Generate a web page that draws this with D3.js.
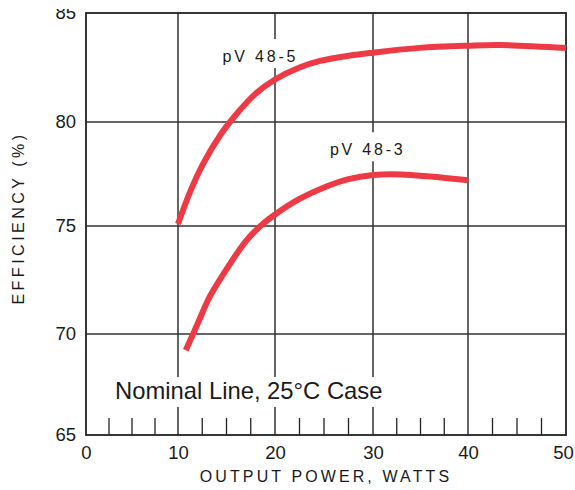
<!DOCTYPE html>
<html>
<head>
<meta charset="utf-8">
<script src="https://cdn.jsdelivr.net/npm/d3@7"></script>
<style>
  body { margin: 0; background: #fff; }
  svg text { font-family: "Liberation Sans", Arial, Helvetica, sans-serif; fill: #1a1a1a; }
</style>
</head>
<body>
<svg id="chart" width="575" height="490"></svg>
<script>
// efficiency curves
var pv485_x = [10, 11.3, 12.6, 14.4, 16.1, 18, 20, 22.5, 24.6, 27.2, 30, 34.9, 40, 43.3, 50];
var pv485_y = [75.1, 76.7, 78.0, 79.4, 80.4, 81.3, 81.95, 82.5, 82.8, 83.02, 83.18, 83.4, 83.5, 83.53, 83.39];

var pv483_x = [10.8, 12, 13.3, 15, 17, 18.5, 20, 22.5, 25, 27.5, 30, 33, 36, 40];
var pv483_y = [69.2, 70.45, 71.75, 73.0, 74.3, 75.0, 75.55, 76.3, 76.85, 77.25, 77.45, 77.48, 77.38, 77.2];

var xTicks = [0, 10, 20, 30, 40, 50];
var yTicks = [65, 70, 75, 80, 85];
var xMinor = [2.5, 5, 7.5, 12.5, 15, 17.5, 22.5, 25, 27.5, 32.5, 35, 37.5, 42.5, 45, 47.5];

var labels = [
    { text: "pV 48-5", x: 14.6, y: 82.75 },
    { text: "pV 48-3", x: 25.6, y: 78.4 }
];

var svg = d3.select("#chart");

// the printed grid is slightly uneven, so the scales follow its lines
var x = d3.scaleLinear().domain(xTicks).range([86, 178, 275, 373, 468, 566]);
var y = d3.scaleLinear().domain(yTicks).range([435, 334, 226, 122, 13]);

var gGrid = svg.append("g");
var gBg = svg.append("g");
var gText = svg.append("g");
var gCurves = svg.append("g");

// horizontal grid
gGrid.selectAll("line.h")
    .data(yTicks.slice(1, -1))
    .enter().append("line")
    .attr("x1", x(0)).attr("x2", x(50))
    .attr("y1", function (d) { return y(d); })
    .attr("y2", function (d) { return y(d); })
    .attr("stroke", "#333")
    .attr("stroke-width", 1.5);

// vertical grid
gGrid.selectAll("line.v")
    .data(xTicks.slice(1, -1))
    .enter().append("line")
    .attr("x1", function (d) { return x(d); })
    .attr("x2", function (d) { return x(d); })
    .attr("y1", y(65)).attr("y2", y(85))
    .attr("stroke", "#333")
    .attr("stroke-width", 1.5);

// minor ticks along the bottom
gGrid.selectAll("line.m")
    .data(xMinor)
    .enter().append("line")
    .attr("x1", function (d) { return x(d); })
    .attr("x2", function (d) { return x(d); })
    .attr("y1", y(65)).attr("y2", y(65) - 17)
    .attr("stroke", "#222")
    .attr("stroke-width", 1.3);

// frame
gGrid.append("rect")
    .attr("x", x(0)).attr("y", y(85))
    .attr("width", x(50) - x(0))
    .attr("height", y(65) - y(85))
    .attr("fill", "none")
    .attr("stroke", "#222")
    .attr("stroke-width", 1.8);

// axes (labels only)
var xAxis = svg.append("g")
    .attr("transform", "translate(0," + y(65) + ")")
    .call(d3.axisBottom(x).tickValues(xTicks).tickSize(0).tickPadding(11));
var yAxis = svg.append("g")
    .attr("transform", "translate(" + x(0) + ",0)")
    .call(d3.axisLeft(y).tickValues(yTicks).tickSize(0).tickPadding(10));
[xAxis, yAxis].forEach(function (a) {
    a.select(".domain").remove();
    a.selectAll("text")
        .attr("font-size", "18.5px")
        .attr("font-family", "'Liberation Sans', Arial, sans-serif")
        .attr("fill", "#1a1a1a");
});
xAxis.selectAll("text").filter(function (d) { return d === 50; }).attr("dx", "-3");

// curve labels with white backing that knocks out the grid
labels.forEach(function (l) {
    var t = gText.append("text")
        .attr("x", x(l.x)).attr("y", y(l.y))
        .attr("font-size", "16px")
        .attr("letter-spacing", "2.8px")
        .text(l.text);
    var b = t.node().getBBox();
    gBg.append("rect")
        .attr("x", b.x - 3).attr("y", b.y - 9)
        .attr("width", b.width + 6).attr("height", b.height + 12)
        .attr("fill", "#fff");
});

// nominal line note
var note = gText.append("text")
    .attr("x", 115).attr("y", 399)
    .attr("font-size", "23.8px")
    .text("Nominal Line, 25\u00b0C Case");
var nb = note.node().getBBox();
gBg.append("rect")
    .attr("x", nb.x - 4).attr("y", 377)
    .attr("width", nb.width + 8).attr("height", 30)
    .attr("fill", "#fff");

// curves
var line = d3.line()
    .x(function (d) { return x(d[0]); })
    .y(function (d) { return y(d[1]); })
    .curve(d3.curveCatmullRom.alpha(0.5));

[[pv485_x, pv485_y], [pv483_x, pv483_y]].forEach(function (s) {
    gCurves.append("path")
        .datum(d3.zip(s[0], s[1]))
        .attr("d", line)
        .attr("fill", "none")
        .attr("stroke", "#ee3a45")
        .attr("stroke-width", 6);
});

// axis titles
svg.append("text")
    .attr("x", 326).attr("y", 482)
    .attr("text-anchor", "middle")
    .attr("font-size", "16px")
    .attr("letter-spacing", "3.1px")
    .text("OUTPUT POWER, WATTS");

svg.append("text")
    .attr("transform", "translate(24,218) rotate(-90)")
    .attr("text-anchor", "middle")
    .attr("font-size", "16px")
    .attr("letter-spacing", "3.5px")
    .text("EFFICIENCY (%)");

// picture is cropped at the top edge
svg.append("rect")
    .attr("x", 0).attr("y", 0)
    .attr("width", 575).attr("height", 9)
    .attr("fill", "#fff");
</script>
</body>
</html>
